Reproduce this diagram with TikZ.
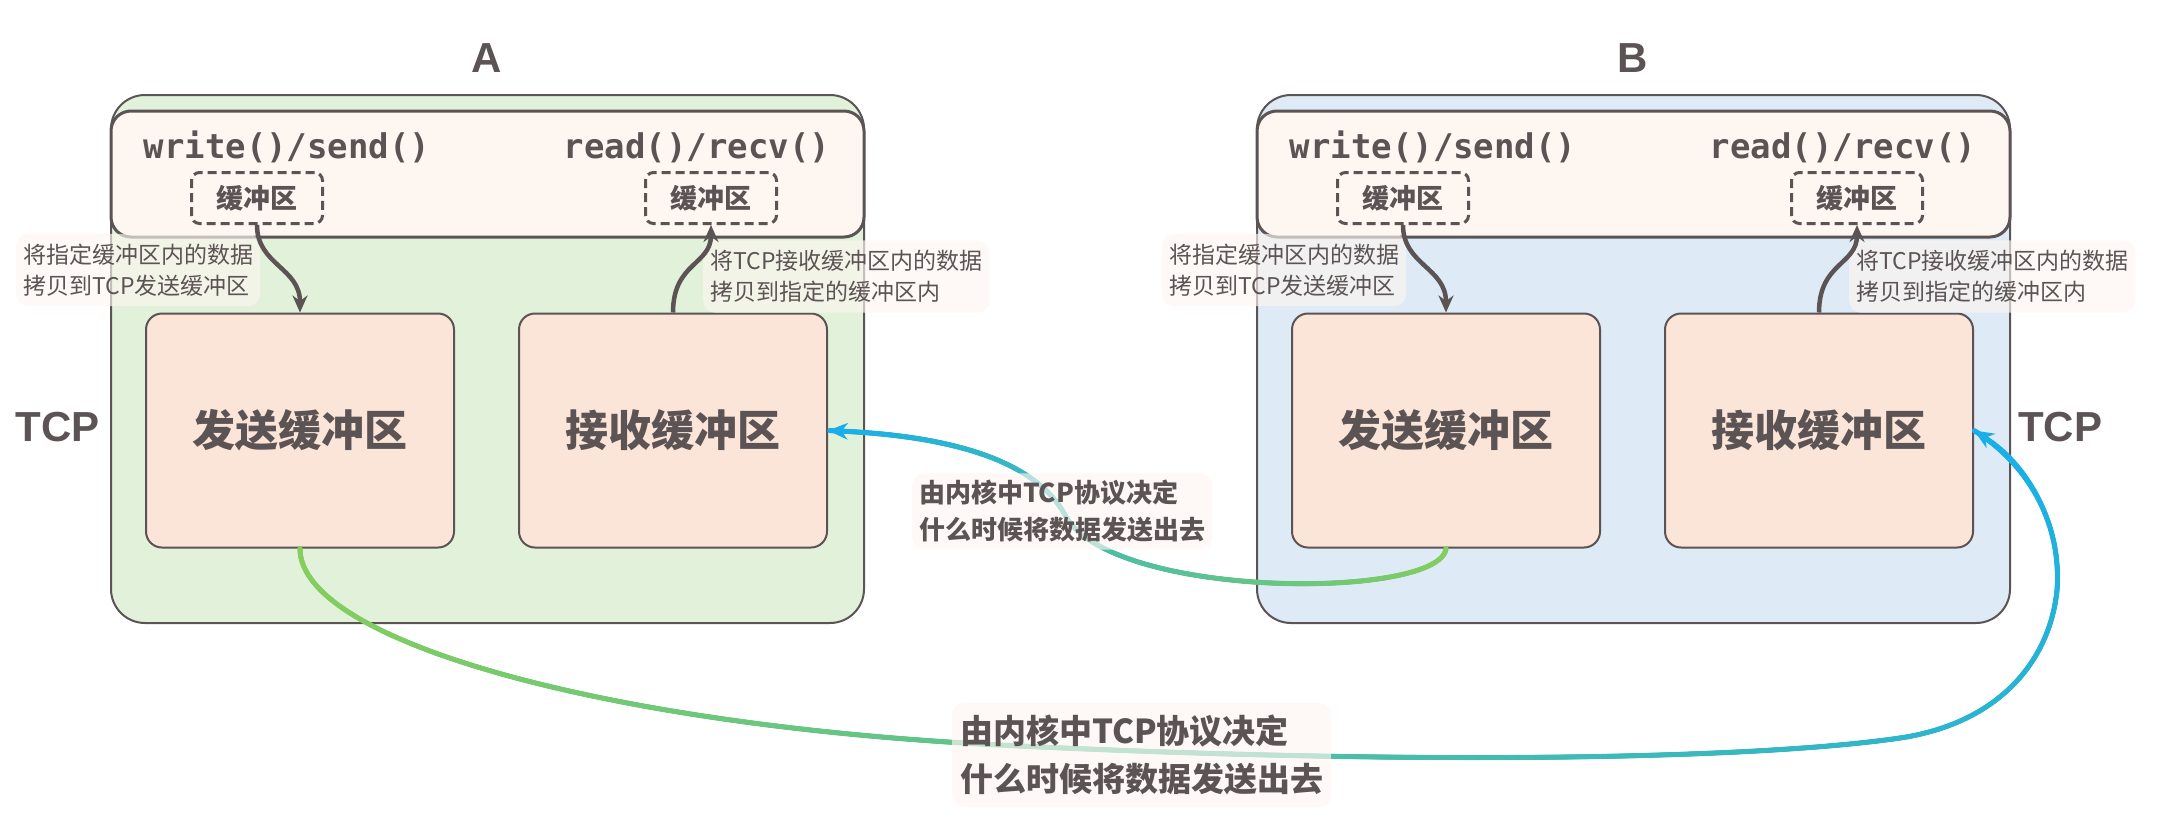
\documentclass[tikz,border=0pt]{standalone}
\usepackage{fontspec}
\setmainfont{Liberation Sans}
\newfontfamily\cjk{Noto Sans CJK SC}
\newfontfamily\mono{DejaVu Sans Mono}
\usetikzlibrary{arrows.meta,decorations.markings}

\definecolor{ink}{HTML}{5C5454}
\definecolor{agreen}{HTML}{E1F1DA}
\definecolor{bblue}{HTML}{DEEAF6}
\definecolor{barfill}{HTML}{FDF6F1}
\definecolor{buffill}{HTML}{FBE5D8}
\definecolor{flowgreen}{HTML}{86CE5C}
\definecolor{flowblue}{HTML}{17AEEB}

\tikzset{
  hostbox/.style={draw=ink,line width=2pt,rounded corners=34pt},
  apibar/.style={draw=ink,line width=3pt,fill=barfill,rounded corners=20pt},
  bufbox/.style={draw=ink,line width=2pt,fill=buffill,rounded corners=16pt,minimum width=308pt,minimum height=234pt,
    text=ink,font=\cjk\bfseries\fontsize{43}{50}\selectfont},
  userbuf/.style={draw=ink,line width=3pt,dash pattern=on 9pt off 5pt,rounded corners=8pt,minimum width=131pt,minimum height=51pt,
    text=ink,font=\cjk\bfseries\fontsize{27}{30}\selectfont},
  apitext/.style={text=ink,anchor=base,inner sep=0pt,font=\mono\bfseries\fontsize{34}{40}\selectfont},
  hostname/.style={text=ink,font=\bfseries\fontsize{42}{48}\selectfont},
  note/.style={fill=barfill,fill opacity=.65,text opacity=1,rounded corners=12pt,align=left,text=ink,anchor=west},
  smallnote/.style={note,inner xsep=7pt,inner ysep=10pt,font=\cjk\fontsize{23}{31}\selectfont},
  copyarrow/.style={draw=ink,line width=4.5pt,-{Stealth[length=17pt,width=15pt]}},
  flow/.style={draw=flowblue,line width=4pt,-{Stealth[length=20pt,width=17pt,line width=0pt]},
    postaction={decorate},decoration={markings,
    mark=between positions 0 and .99 step 1pt with {
      \pgfmathsetmacro\flowpct{100*(\pgfkeysvalueof{/pgf/decoration/mark info/distance from start}/\pgfdecoratedpathlength)}
      \fill[flowblue!\flowpct!flowgreen] (0,0) circle[radius=2.6pt];}}},
}

\begin{document}
\begin{tikzpicture}[x=1pt,y=-1pt]
  \useasboundingbox (0,0) rectangle (2157,825);
  % the two hosts
  \foreach \h/\lbl/\dx/\col in {a/A/0/agreen,b/B/1146/bblue}{
    \begin{scope}[xshift=\dx]
      \node[hostname] (name\h) at (487,58) {\lbl};
      \filldraw[hostbox,fill=\col] (111,95) rectangle (864,623);
      \filldraw[apibar] (111,111) rectangle (864,237);
      \node[apitext] (write\h) at (287,158) {write()/send()};
      \node[apitext] (read\h) at (697,158) {read()/recv()};
      \node[userbuf] (wbuf\h) at (257,198) {缓冲区};
      \node[userbuf] (rbuf\h) at (711,198) {缓冲区};
      \node[bufbox] (send\h) at (300,430.5) {发送缓冲区};
      \node[bufbox] (recv\h) at (673,430.5) {接收缓冲区};
      \node[smallnote] (wnote\h) at (16,270) {将指定缓冲区内的数据\\拷贝到TCP发送缓冲区};
      \node[smallnote] (rnote\h) at (703,276.5) {将TCP接收缓冲区内的数据\\拷贝到指定的缓冲区内};
      \draw[copyarrow] (wbuf\h.south) .. controls +(0,40) and +(0,-45) .. (send\h.north);
      \draw[copyarrow] (recv\h.north) .. controls +(0,-50) and +(0,40) .. (rbuf\h.south);
    \end{scope}
  }
  \node[hostname] (tcpa) at (58,427) {TCP};
  \node[hostname] (tcpb) at (2060,427) {TCP};
  % kernel transfers
  \path[flow] (sendb.south) .. controls (1440,600) and (1110,600) .. (1065,515)
    .. controls (1035,460) and (950,435) .. (recva.east);
  \path[flow] (senda.south) .. controls (300,640) and (600,725) .. (1000,745)
    .. controls (1400,765) and (1750,760) .. (1900,738)
    .. controls (2000,723) and (2050,660) .. (2057,590)
    .. controls (2062,520) and (2025,462) .. (recvb.east);
  \node[note,inner sep=7pt,font=\cjk\bfseries\fontsize{26}{37}\selectfont] (midnote) at (912,511.5) {由内核中TCP协议决定\\什么时候将数据发送出去};
  \node[note,inner xsep=8pt,inner ysep=12pt,font=\cjk\bfseries\fontsize{33}{48}\selectfont] (lownote) at (952,755) {由内核中TCP协议决定\\什么时候将数据发送出去};
\end{tikzpicture}
\end{document}
